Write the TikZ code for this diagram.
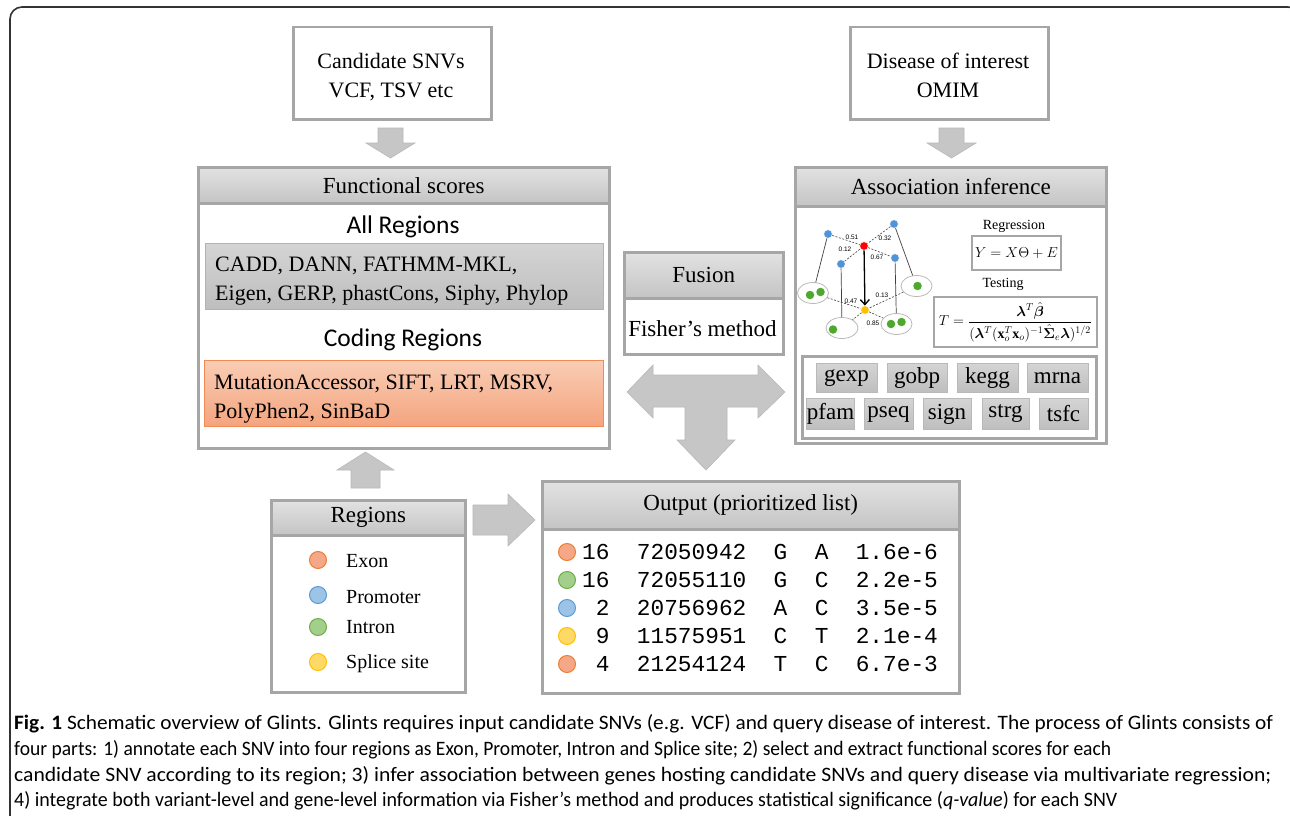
\documentclass[tikz,border=0pt]{standalone}
\usepackage{fontspec}
\setmainfont{Liberation Serif}
\newfontfamily\calibf{Carlito}
\newfontfamily\monof{Liberation Mono}
\newfontfamily\lsansf{Liberation Sans}
\usepackage{amsmath}
\usepackage{bm}
\usetikzlibrary{shapes.geometric,arrows.meta}

\definecolor{boxgray}{HTML}{A6A6A6}
\definecolor{hdtop}{HTML}{E2E2E2}
\definecolor{hdbot}{HTML}{C4C4C4}
\definecolor{gbtop}{HTML}{D4D4D4}
\definecolor{gbbot}{HTML}{BEBEBE}
\definecolor{ortop}{HTML}{F9CDB5}
\definecolor{orbot}{HTML}{F4A47E}
\definecolor{orline}{HTML}{F08B55}
\definecolor{arrg}{HTML}{C6C6C6}
\definecolor{arrline}{HTML}{B8B8B8}
\definecolor{exf}{HTML}{F4A888}\definecolor{exd}{HTML}{ED7D31}
\definecolor{grf}{HTML}{A3CF8C}\definecolor{grd}{HTML}{70AD47}
\definecolor{blf}{HTML}{9DC3E6}\definecolor{bld}{HTML}{5B9BD5}
\definecolor{ylf}{HTML}{FFD966}\definecolor{yld}{HTML}{FFC000}
\definecolor{netblue}{HTML}{4F94DA}
\definecolor{netgreen}{HTML}{4EA82E}
\definecolor{netyel}{HTML}{FFBF00}

\newcommand\szH{\fontsize{23}{28}\selectfont}
\newcommand\szB{\fontsize{22}{29}\selectfont}
\newcommand\szL{\fontsize{20}{24}\selectfont}
\newcommand\szC{\calibf\fontsize{25.5}{30}\selectfont}
\newcommand\szM{\monof\fontsize{22.8}{28}\selectfont}
\newcommand\szS{\fontsize{14}{16}\selectfont}
\newcommand\szN{\lsansf\fontsize{6.5}{7}\selectfont}
\newcommand\szCap{\calibf\fontsize{20.5}{26}\selectfont}

\tikzset{
 mainbox/.style={draw=boxgray, line width=2.5pt, fill=white, inner sep=0pt, anchor=north west},
 hdr/.style={draw=boxgray, line width=2.5pt, top color=hdtop, bottom color=hdbot, inner sep=0pt, anchor=north west, font=\szH},
 lbl/.style={inner sep=0pt, font=\szB},
 scorebox/.style={draw=gray!60, line width=0.8pt, top color=gbtop, bottom color=gbbot, inner sep=0pt, anchor=north west},
 codebox/.style={draw=orline, line width=0.8pt, top color=ortop, bottom color=orbot, inner sep=0pt, anchor=north west},
 gene/.style={draw=gray!55, line width=0.8pt, top color=gbtop, bottom color=gbbot, inner sep=0pt, font=\szH},
 legdot/.style={circle, minimum size=17pt, inner sep=0pt, line width=1pt},
 blockarrow/.style={fill=arrg, draw=arrline, line width=0.6pt},
 netnode/.style={circle, minimum size=8.5pt, inner sep=0pt, draw=white, line width=0.4pt},
 grp/.style={ellipse, draw=gray!55, line width=0.8pt, fill=white, inner sep=0pt},
 gdot/.style={circle, fill=netgreen, minimum size=8.5pt, inner sep=0pt},
 wlabel/.style={font=\szN, inner sep=0pt},
 tie/.style={line width=0.7pt, black!75},
 dashtie/.style={line width=0.6pt, black!75, dash pattern=on 2pt off 1.5pt},
 rowtxt/.style={font=\szM, inner sep=0pt, anchor=base west},
 captxt/.style={font=\szCap, inner sep=0pt, anchor=base west},
 legtxt/.style={font=\szL, anchor=west, inner sep=0pt},
}

\begin{document}
\begin{tikzpicture}[x=1pt,y=-1pt]
\useasboundingbox (0,0) rectangle (1290,816);
\fill[white] (0,0) rectangle (1290,816);
\draw[line width=1.6pt, black!80, rounded corners=12pt] (10,7) rectangle (1300,830);

% inputs
\node[mainbox, minimum width=198, minimum height=92] (cand) at (292,26) {};
\node[lbl, align=center] (candt) at (391,77) {Candidate SNVs\\VCF, TSV etc};
\node[mainbox, minimum width=198, minimum height=92] (dis) at (849,26) {};
\node[lbl, align=center] (dist) at (948,75.5) {Disease of interest\\OMIM};

\path[blockarrow] (378,128) -- (403,128) -- (403,143) -- (415,143) -- (390.5,158) -- (366,143) -- (378,143) -- cycle;
\path[blockarrow] (939,128) -- (964,128) -- (964,143) -- (976,143) -- (951.5,158) -- (927,143) -- (939,143) -- cycle;

% functional scores
\node[mainbox, minimum width=411, minimum height=281] (func) at (197,166) {};
\node[hdr, minimum width=411, minimum height=36] (funch) at (197,166) {Functional scores};
\node[font=\szC, inner sep=0pt] (allr) at (403,227) {All Regions};
\node[scorebox, minimum width=398, minimum height=66] (allb) at (205,243) {};
\node[lbl, align=left, anchor=west] (allt) at (215,281) {CADD, DANN, FATHMM-MKL,\\Eigen, GERP, phastCons, Siphy, Phylop};
\node[font=\szC, inner sep=0pt] (codr) at (403,340) {Coding Regions};
\node[codebox, minimum width=399, minimum height=66] (codb) at (204,360) {};
\node[lbl, align=left, anchor=west] (codt) at (214,399) {MutationAccessor, SIFT, LRT, MSRV,\\PolyPhen2, SinBaD};

% fusion
\node[mainbox, minimum width=159, minimum height=102] (fus) at (623,251) {};
\node[hdr, minimum width=159, minimum height=46] (fush) at (623,251) {Fusion};
\node[lbl, font=\szH] (fust) at (702.5,329) {Fisher’s method};

\path[blockarrow] (627,392) -- (653,365) -- (653,375) -- (758,375) -- (758,365) -- (785,392) -- (758,418) -- (758,407) -- (727,407) -- (727,440) -- (735,440) -- (706,470) -- (677,440) -- (685,440) -- (685,407) -- (653,407) -- (653,418) -- cycle;

% association
\node[mainbox, minimum width=311, minimum height=276] (assoc) at (794,166) {};
\node[hdr, minimum width=311, minimum height=39] (assoch) at (794,166) {Association inference};

\node[grp, minimum width=31, minimum height=21] (e1) at (813,293) {};
\node[grp, minimum width=31, minimum height=21] (e2) at (916.5,286) {};
\node[grp, minimum width=32, minimum height=21] (e3) at (842,328) {};
\node[grp, minimum width=31, minimum height=21] (e4) at (896.5,324) {};
\node[netnode, fill=netblue] (b1) at (828,234) {};
\node[netnode, fill=netblue] (b2) at (894,224) {};
\node[netnode, fill=netblue] (b3) at (841,264) {};
\node[netnode, fill=netblue] (b4) at (895,258) {};
\node[netnode, fill=red] (rn) at (864,246) {};
\node[netnode, fill=netyel] (yn) at (865,310) {};
\draw[tie] (b1) -- (e1);
\draw[tie] (b3) -- (e3);
\draw[tie] (b4) -- (e4);
\draw[tie] (b2) -- (e2);
\draw[dashtie] (b1) -- (rn);
\draw[dashtie] (b2) -- (rn);
\draw[dashtie] (b3) -- (rn);
\draw[dashtie] (rn) -- (b4);
\draw[dashtie] (e1) -- (yn);
\draw[dashtie] (e2) -- (yn);
\draw[dashtie] (yn) -- (e3);
\draw[dashtie] (yn) -- (e4);
\draw[line width=1.3pt, -{Straight Barb[length=5pt,width=9pt]}] (rn) -- (yn);
\node[gdot] (g1) at (810,295) {};
\node[gdot] (g2) at (820.5,292) {};
\node[gdot] (g3) at (917.5,286) {};
\node[gdot] (g4) at (833,329.5) {};
\node[gdot] (g5) at (891,324) {};
\node[gdot] (g6) at (901.5,322) {};
\node[wlabel] (w1) at (852,237) {0.51};
\node[wlabel] (w2) at (885,238) {0.32};
\node[wlabel] (w3) at (845,249) {0.12};
\node[wlabel] (w4) at (877,257) {0.67};
\node[wlabel] (w5) at (851,301) {0.47};
\node[wlabel] (w6) at (882,295) {0.13};
\node[wlabel] (w7) at (873,323) {0.85};

\node[font=\szS, inner sep=0pt] (regl) at (1014,226) {Regression};
\node[draw=boxgray, line width=2.5pt, minimum width=89, minimum height=34, inner sep=0pt, font=\szS] (regf) at (1016.5,253) {$Y = X\Theta + E$};
\node[font=\szS, inner sep=0pt] (testl) at (1003,284) {Testing};
\node[draw=boxgray, line width=2.5pt, minimum width=163, minimum height=50, inner sep=0pt, font=\szS] (testf) at (1015.5,322) {$T=\dfrac{\bm{\lambda}^{T}\hat{\bm{\beta}}}{(\bm{\lambda}^{T}(\mathbf{x}_{o}^{T}\mathbf{x}_{o})^{-1}\hat{\bm{\Sigma}}_{e}\bm{\lambda})^{1/2}}$};

\node[draw=boxgray, line width=2.5pt, minimum width=294, minimum height=82, anchor=north west, inner sep=0pt] (genes) at (801,355) {};
\node[gene, minimum width=61, minimum height=29] (gexp) at (846.5,378) {gexp};
\node[gene, minimum width=60, minimum height=29] (gobp) at (917,378) {gobp};
\node[gene, minimum width=61, minimum height=29] (kegg) at (987.5,378) {kegg};
\node[gene, minimum width=61, minimum height=29] (mrna) at (1057.5,378) {mrna};
\node[gene, minimum width=47, minimum height=31] (pfam) at (830.5,414) {pfam};
\node[gene, minimum width=49, minimum height=31] (pseq) at (888.5,414) {pseq};
\node[gene, minimum width=48, minimum height=31] (sign) at (947,414) {sign};
\node[gene, minimum width=47, minimum height=31] (strg) at (1005.5,414) {strg};
\node[gene, minimum width=49, minimum height=31] (tsfc) at (1063.5,414) {tsfc};

% regions
\path[blockarrow] (365.5,452) -- (394,470) -- (380,470) -- (380,488) -- (351,488) -- (351,470) -- (337,470) -- cycle;
\node[mainbox, minimum width=194, minimum height=192] (reg) at (270,499) {};
\node[hdr, minimum width=194, minimum height=35] (regh) at (270,499) {Regions};
\node[legdot, fill=exf, draw=exd] (lex) at (318,560) {};
\node[legtxt] (lext) at (346,561) {Exon};
\node[legdot, fill=blf, draw=bld] (lpr) at (318,595) {};
\node[legtxt] (lprt) at (346,597) {Promoter};
\node[legdot, fill=grf, draw=grd] (lin) at (318,627) {};
\node[legtxt] (lint) at (346,627) {Intron};
\node[legdot, fill=ylf, draw=yld] (lsp) at (318,662) {};
\node[legtxt] (lspt) at (346,664) {Splice site};

\path[blockarrow] (473,505) -- (508,505) -- (508,494) -- (535,520) -- (508,546) -- (508,535) -- (473,535) -- cycle;

% output
\node[mainbox, minimum width=417, minimum height=212] (out) at (541,480) {};
\node[hdr, minimum width=417, minimum height=48] (outh) at (541,480) {Output (prioritized list)};
\node[legdot, fill=exf, draw=exd] (o1) at (567,552) {};
\node[rowtxt] (r1) at (582,559.5) {16~~72050942~~G~~A~~1.6e-6};
\node[legdot, fill=grf, draw=grd] (o2) at (567,580) {};
\node[rowtxt] (r2) at (582,587.5) {16~~72055110~~G~~C~~2.2e-5};
\node[legdot, fill=blf, draw=bld] (o3) at (567,608) {};
\node[rowtxt] (r3) at (582,615.5) {~2~~20756962~~A~~C~~3.5e-5};
\node[legdot, fill=ylf, draw=yld] (o4) at (567,636) {};
\node[rowtxt] (r4) at (582,643.5) {~9~~11575951~~C~~T~~2.1e-4};
\node[legdot, fill=exf, draw=exd] (o5) at (567,664) {};
\node[rowtxt] (r5) at (582,671.5) {~4~~21254124~~T~~C~~6.7e-3};

% caption
\node[captxt] (cap1) at (14,729) {\resizebox{1259pt}{\height}{\textbf{Fig. 1} Schematic overview of Glints. Glints requires input candidate SNVs (e.g. VCF) and query disease of interest. The process of Glints consists of}};
\node[captxt] (cap2) at (14,755) {\resizebox{1097pt}{\height}{four parts: 1) annotate each SNV into four regions as Exon, Promoter, Intron and Splice site; 2) select and extract functional scores for each}};
\node[captxt] (cap3) at (14,781) {\resizebox{1257pt}{\height}{candidate SNV according to its region; 3) infer association between genes hosting candidate SNVs and query disease via multivariate regression;}};
\node[captxt] (cap4) at (14,806) {\resizebox{1103pt}{\height}{4) integrate both variant-level and gene-level information via Fisher’s method and produces statistical significance (\textit{q-value}) for each SNV}};
\end{tikzpicture}
\end{document}
